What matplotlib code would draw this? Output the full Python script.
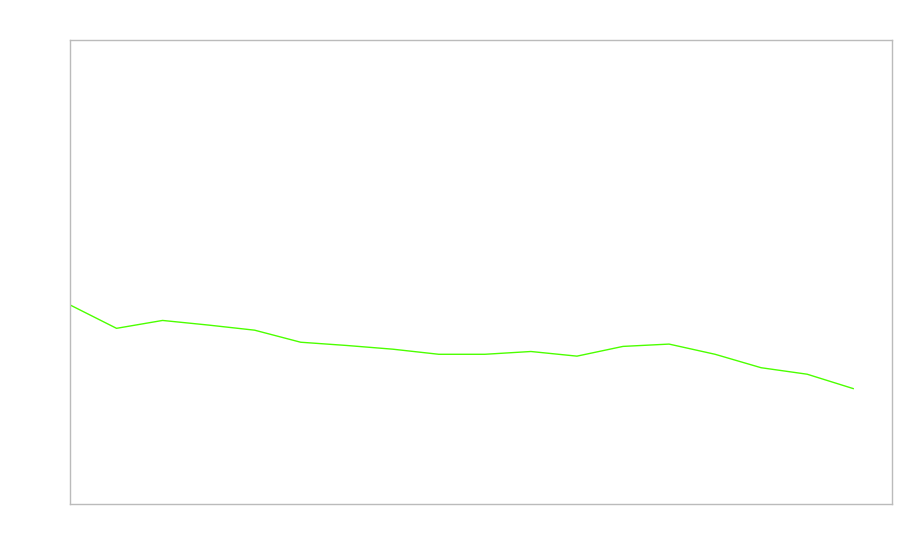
import matplotlib
matplotlib.use('Agg')
import matplotlib.pyplot as plt

# values (arbitrary units, axis 0-100)
points = list(range(18))
values = [42.9, 37.9, 39.6, 38.6, 37.5, 34.9, 34.2, 33.4, 32.3, 32.3,
          32.9, 31.9, 34.0, 34.5, 32.3, 29.4, 28.0, 24.9]

fig = plt.figure(figsize=(9, 5.6), dpi=100)
ax = fig.add_axes([0.0783, 0.1, 0.9127, 0.8277])

ax.plot(points, values, color='#4cff00', linewidth=1)

ax.set_xlim(0, 17.84)
ax.set_ylim(0, 100)
ax.set_xticks([])
ax.set_yticks([])
for s in ax.spines.values():
    s.set_color('#bbbbbb')
    s.set_linewidth(1)

fig.savefig('out.png', dpi=100)
